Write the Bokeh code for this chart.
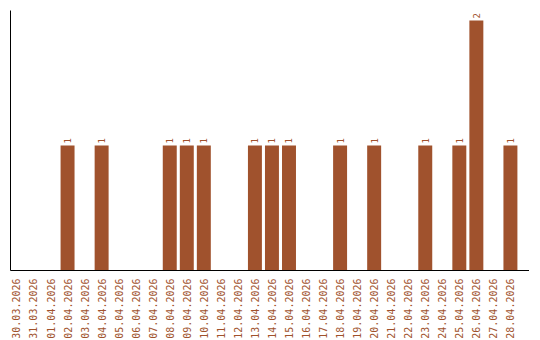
from math import pi
from bokeh.plotting import figure
from bokeh.models import ColumnDataSource, FixedTicker, Range1d
from bokeh.core.properties import value
from bokeh.embed import file_html
from bokeh.resources import INLINE

dates = ["30.03.2026", "31.03.2026", "01.04.2026", "02.04.2026", "03.04.2026",
         "04.04.2026", "05.04.2026", "06.04.2026", "07.04.2026", "08.04.2026",
         "09.04.2026", "10.04.2026", "11.04.2026", "12.04.2026", "13.04.2026",
         "14.04.2026", "15.04.2026", "16.04.2026", "17.04.2026", "18.04.2026",
         "19.04.2026", "20.04.2026", "21.04.2026", "22.04.2026", "23.04.2026",
         "24.04.2026", "25.04.2026", "26.04.2026", "27.04.2026", "28.04.2026"]
counts = [0, 0, 0, 1, 0, 1, 0, 0, 0, 1, 1, 1, 0, 0, 1, 1, 1, 0, 0, 1,
          0, 1, 0, 0, 1, 0, 1, 2, 0, 1]

COLOR = "#A0522D"
FONT = "DejaVu Sans Mono"

idx = list(range(len(dates)))
src = ColumnDataSource(dict(x=idx, c=counts))
lab_x = [i for i, c in zip(idx, counts) if c > 0]
lab_c = [c for c in counts if c > 0]
lab_src = ColumnDataSource(dict(x=lab_x, c=lab_c, t=[str(c) for c in lab_c]))

p = figure(x_range=Range1d(-0.35, 30.12), y_range=Range1d(0, 2.08),
           width=540, height=340, frame_width=519, frame_height=260,
           output_backend="svg", toolbar_location=None,
           min_border_left=10, min_border_right=0,
           min_border_top=10, min_border_bottom=0)
p.vbar(x="x", top="c", width=0.82, source=src, color=COLOR, line_color=None)
p.text(x="x", y="c", text="t", source=lab_src, angle=pi / 2,
       text_align="left", text_baseline="middle", y_offset=-2,
       text_font=value(FONT), text_font_size="9px", text_color=COLOR)

p.outline_line_color = None
p.grid.grid_line_color = None
p.background_fill_color = "white"
p.border_fill_color = "white"

p.xaxis.ticker = FixedTicker(ticks=idx)
p.xaxis.major_label_overrides = {i: d for i, d in zip(idx, dates)}
p.xaxis.major_label_orientation = pi / 2
p.xaxis.major_label_text_font = FONT
p.xaxis.major_label_text_font_size = "10px"
p.xaxis.major_label_text_color = COLOR
p.xaxis.major_tick_line_color = None
p.xaxis.minor_tick_line_color = None
p.xaxis.axis_line_color = "black"
p.xaxis.axis_line_width = 1
p.xaxis.major_label_standoff = 2

p.yaxis.ticker = FixedTicker(ticks=[])
p.yaxis.major_tick_line_color = None
p.yaxis.minor_tick_line_color = None
p.yaxis.axis_line_color = "black"
p.yaxis.axis_line_width = 1
p.yaxis.major_label_text_font_size = "0px"

open("out.html", "w").write(file_html(p, INLINE))
